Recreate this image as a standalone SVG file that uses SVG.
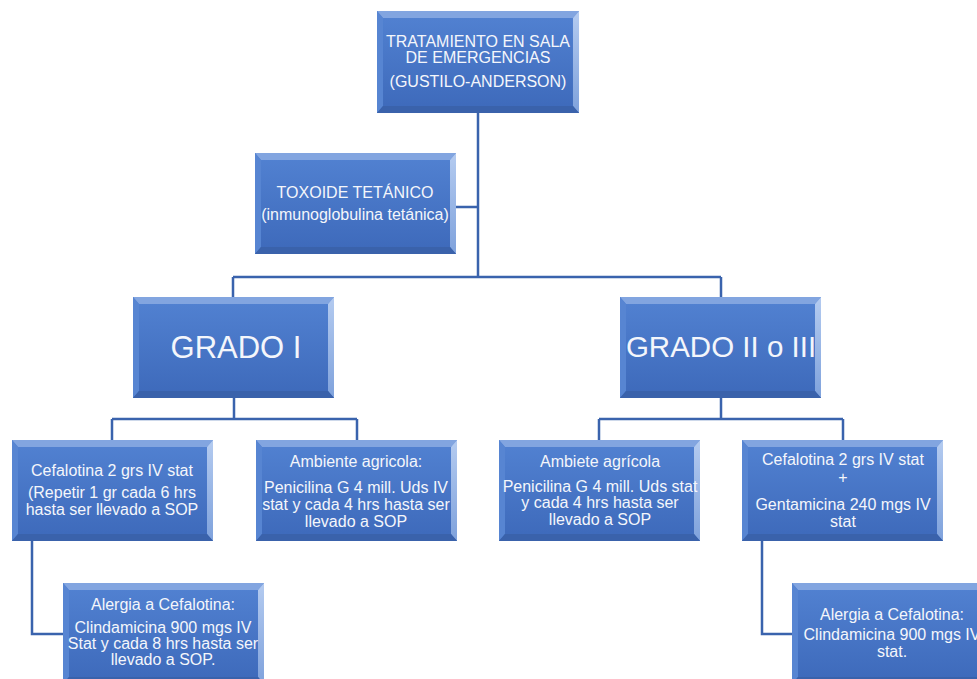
<svg xmlns="http://www.w3.org/2000/svg" xmlns:xlink="http://www.w3.org/1999/xlink" width="977" height="679" viewBox="0 0 977 679">
<style>
.t{font-family:"Liberation Sans",Arial,sans-serif;font-size:16px;fill:#f4f6fb;text-anchor:middle}
.big{font-size:31px}
.big2{font-size:29.5px}
.c{fill:none;stroke:#3a63ad;stroke-width:2.5}
</style>
<defs>
<linearGradient id="face" x1="0" y1="0" x2="0" y2="1">
<stop offset="0" stop-color="#5282d2"/>
<stop offset="1" stop-color="#3d69ba"/>
</linearGradient>
<linearGradient id="rside" x1="0" y1="0" x2="0" y2="1">
<stop offset="0" stop-color="#b4cbf0"/>
<stop offset="1" stop-color="#7fa2dc"/>
</linearGradient>
<g id="box">
<rect x="0" y="0" width="201" height="101" fill="url(#face)"/>
<polygon points="0,0 201,0 195,7 6,7" fill="#82a5e0"/>
<polygon points="0,0 6,7 6,94 0,101" fill="#5785d2"/>
<polygon points="201,0 201,101 195,94 195,7" fill="url(#rside)"/>
<polygon points="0,101 6,94 195,94 201,101" fill="#3a62ab"/>
</g>
</defs>
<rect width="977" height="679" fill="#ffffff"/>
<g id="connectors">
<path class="c" d="M478,113 V277 M456,207 H478 M233,277 H721 M233,277 V297 M721,277 V297"/>
<path class="c" d="M234,398 V419 M112,419 H357 M112,419 V441 M357,419 V441"/>
<path class="c" d="M721,398 V419 M599,419 H843 M599,419 V441 M843,419 V441"/>
<path class="c" d="M32,541 V634 H63"/>
<path class="c" d="M762,541 V634 H792"/>
</g>
<g id="n_top">
<use xlink:href="#box" href="#box" transform="translate(377,11) scale(1.005,1.01)"/>
<text class="t" x="478" y="47">TRATAMIENTO EN SALA</text>
<text class="t" x="478" y="63">DE EMERGENCIAS</text>
<text class="t" x="478" y="87">(GUSTILO-ANDERSON)</text>
</g>
<g id="n_toxoide">
<use xlink:href="#box" href="#box" x="255" y="153"/>
<text class="t" x="355" y="198">TOXOIDE TETÁNICO</text>
<text class="t" x="355" y="220">(inmunoglobulina tetánica)</text>
</g>
<g id="n_grado1">
<use xlink:href="#box" href="#box" x="133" y="297"/>
<text class="t big" x="236" y="358">GRADO I</text>
</g>
<g id="n_grado2">
<use xlink:href="#box" href="#box" x="620" y="297"/>
<text class="t big2" x="721" y="357">GRADO II o III</text>
</g>
<g id="n_cef1">
<use xlink:href="#box" href="#box" x="12" y="440"/>
<text class="t" x="112" y="476">Cefalotina 2 grs IV stat</text>
<text class="t" x="112" y="498">(Repetir 1 gr cada 6 hrs</text>
<text class="t" x="112" y="515">hasta ser llevado a SOP</text>
</g>
<g id="n_amb1">
<use xlink:href="#box" href="#box" x="256" y="440"/>
<text class="t" x="356" y="467">Ambiente agricola:</text>
<text class="t" x="356" y="493">Penicilina G 4 mill. Uds IV</text>
<text class="t" x="356" y="510">stat y cada 4 hrs hasta ser</text>
<text class="t" x="356" y="527">llevado a SOP</text>
</g>
<g id="n_amb2">
<use xlink:href="#box" href="#box" x="499" y="440"/>
<text class="t" x="600" y="467">Ambiete agrícola</text>
<text class="t" x="600" y="492">Penicilina G 4 mill. Uds stat</text>
<text class="t" x="600" y="508">y cada 4 hrs hasta ser</text>
<text class="t" x="600" y="525">llevado a SOP</text>
</g>
<g id="n_cef2">
<use xlink:href="#box" href="#box" x="742" y="440"/>
<text class="t" x="843" y="465">Cefalotina 2 grs IV stat</text>
<text class="t" x="843" y="483">+</text>
<text class="t" x="843" y="510">Gentamicina 240 mgs IV</text>
<text class="t" x="843" y="527">stat</text>
</g>
<g id="n_alergia1">
<use xlink:href="#box" href="#box" x="63" y="583"/>
<text class="t" x="163" y="610">Alergia a Cefalotina:</text>
<text class="t" x="163" y="633">Clindamicina 900 mgs IV</text>
<text class="t" x="163" y="649">Stat y cada 8 hrs hasta ser</text>
<text class="t" x="163" y="665">llevado a SOP.</text>
</g>
<g id="n_alergia2">
<use xlink:href="#box" href="#box" x="792" y="583"/>
<text class="t" x="892" y="620">Alergia a Cefalotina:</text>
<text class="t" x="892" y="640">Clindamicina 900 mgs IV</text>
<text class="t" x="892" y="657">stat.</text>
</g>
</svg>
